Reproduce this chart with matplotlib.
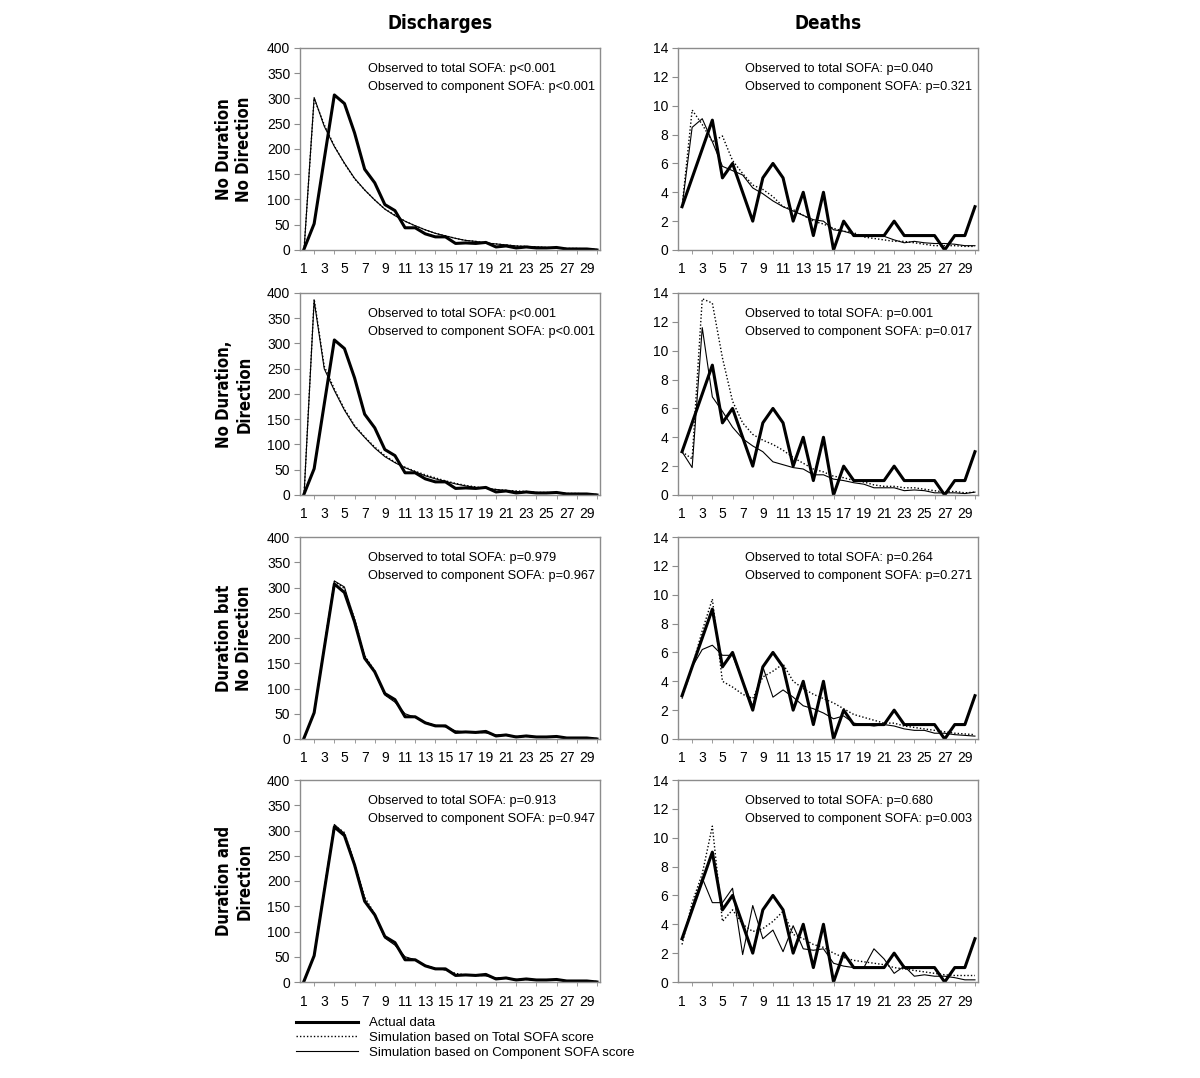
import matplotlib
matplotlib.use("Agg")
import matplotlib.pyplot as plt
import numpy as np

# Length of stay (days) categories
days = list(range(1, 31))
tick_days = list(range(1, 30, 2))

col_titles = ["Discharges", "Deaths"]
row_labels = ["No Duration\nNo Direction", "No Duration,\nDirection",
              "Duration but\nNo Direction", "Duration and\nDirection"]

# Observed data
actual_discharges = [2, 52, 180, 307, 290, 232, 160, 133, 90, 78, 44, 44, 32, 26, 26,
                     13, 14, 13, 15, 6, 8, 4, 6, 4, 4, 5, 2, 2, 2, 0]
actual_deaths = [3, 5, 7, 9, 5, 6, 4, 2, 5, 6, 5, 2, 4, 1, 4,
                 0, 2, 1, 1, 1, 1, 2, 1, 1, 1, 1, 0, 1, 1, 3]

# Simulations based on total SOFA score, one list per model
total_discharges = [
    [0, 300, 248, 206, 171, 141, 119, 99, 81, 69, 57, 48, 40, 33, 28,
     23, 19, 17, 14, 12, 10, 8, 7, 6, 5, 4, 3, 3, 2, 1],
    [0, 388, 255, 210, 170, 138, 115, 95, 78, 65, 55, 47, 40, 34, 28,
     23, 19, 16, 13, 11, 9, 8, 7, 5, 5, 4, 3, 3, 2, 1],
    [2, 52, 185, 312, 298, 238, 165, 135, 88, 75, 46, 44, 33, 27, 25,
     15, 14, 13, 13, 8, 8, 5, 5, 4, 4, 4, 2, 2, 2, 1],
    [2, 53, 185, 310, 296, 236, 168, 135, 88, 75, 48, 44, 33, 27, 24,
     17, 14, 13, 13, 8, 8, 5, 5, 4, 4, 5, 2, 2, 2, 1],
]
total_deaths = [
    [3, 9.7, 8.7, 7.5, 7.9, 6.2, 5.3, 4.5, 4.2, 3.7, 3.0, 2.8, 2.4, 2.0, 1.8,
     1.5, 1.3, 1.2, 0.9, 0.8, 0.7, 0.6, 0.6, 0.5, 0.4, 0.3, 0.3, 0.3, 0.25, 0.25],
    [3.0, 2.5, 13.6, 13.3, 9.5, 6.5, 5.0, 4.2, 3.8, 3.5, 3.1, 2.6, 2.2, 1.8, 1.6,
     1.3, 1.2, 1.0, 0.9, 0.7, 0.6, 0.6, 0.5, 0.5, 0.4, 0.3, 0.2, 0.25, 0.15, 0.2],
    [2.8, 5.0, 7.5, 9.7, 4.0, 3.6, 3.1, 2.8, 4.3, 4.7, 5.2, 4.0, 3.5, 3.1, 2.8,
     2.5, 2.1, 1.7, 1.5, 1.3, 1.1, 1.1, 0.9, 0.8, 0.7, 0.6, 0.5, 0.4, 0.35, 0.3],
    [2.6, 5.5, 7.5, 10.8, 4.2, 5.0, 4.0, 3.5, 3.7, 4.2, 4.9, 3.3, 3.0, 2.6, 2.4,
     2.0, 1.7, 1.5, 1.4, 1.3, 1.2, 1.0, 0.9, 0.8, 0.7, 0.6, 0.5, 0.45, 0.45, 0.45],
]

# Simulations based on component SOFA score
component_discharges = [
    [0, 302, 245, 205, 172, 142, 119, 99, 81, 68, 57, 48, 40, 33, 28,
     23, 19, 17, 14, 12, 10, 8, 7, 6, 5, 4, 3, 3, 2, 1],
    [0, 385, 250, 207, 168, 136, 114, 93, 76, 64, 54, 46, 38, 32, 27,
     22, 18, 15, 13, 11, 9, 7, 6, 5, 4, 4, 3, 2, 2, 1],
    [2, 52, 183, 313, 301, 236, 163, 132, 87, 73, 50, 43, 32, 27, 24,
     16, 14, 13, 12, 8, 7, 5, 5, 4, 3, 4, 2, 2, 2, 1],
    [2, 52, 183, 312, 294, 234, 162, 132, 87, 73, 50, 44, 33, 27, 24,
     15, 14, 13, 12, 8, 8, 5, 5, 4, 4, 4, 2, 2, 2, 1],
]
component_deaths = [
    [3, 8.5, 9.1, 7.5, 5.8, 5.5, 5.2, 4.3, 3.9, 3.4, 3.0, 2.7, 2.4, 2.1, 2.0,
     1.4, 1.3, 1.1, 1.0, 1.0, 0.95, 0.7, 0.5, 0.6, 0.5, 0.45, 0.45, 0.4, 0.3, 0.3],
    [3.0, 1.9, 11.6, 6.8, 5.8, 4.7, 3.9, 3.4, 3.0, 2.3, 2.1, 1.9, 1.8, 1.4, 1.4,
     1.1, 1.0, 0.85, 0.75, 0.5, 0.5, 0.5, 0.3, 0.35, 0.3, 0.15, 0.15, 0.15, 0.1, 0.2],
    [3.0, 5.0, 6.2, 6.5, 5.8, 5.8, 4.0, 2.3, 5.0, 2.9, 3.4, 2.9, 2.3, 2.1, 1.8,
     1.4, 1.6, 1.1, 1.0, 0.9, 1.0, 0.9, 0.7, 0.6, 0.6, 0.4, 0.4, 0.3, 0.25, 0.2],
    [3.0, 5.2, 7.2, 5.5, 5.5, 6.5, 1.9, 5.3, 3.0, 3.6, 2.1, 3.9, 2.3, 2.2, 2.3,
     1.3, 1.1, 1.0, 1.0, 2.3, 1.6, 0.6, 1.1, 0.4, 0.5, 0.4, 0.4, 0.3, 0.15, 0.15],
]

p_total_discharges = ["p<0.001", "p<0.001", "p=0.979", "p=0.913"]
p_component_discharges = ["p<0.001", "p<0.001", "p=0.967", "p=0.947"]
p_total_deaths = ["p=0.040", "p=0.001", "p=0.264", "p=0.680"]
p_component_deaths = ["p=0.321", "p=0.017", "p=0.271", "p=0.003"]

plt.rcParams["font.family"] = ["Liberation Sans", "DejaVu Sans"]
grey = "#8c8c8c"

fig = plt.figure(figsize=(12, 10.78), dpi=100)
W, H = 1200, 1078
col_left = [300, 678]
col_width = [300, 300]
row_top = [48, 293, 537, 780]
row_height = 202


def style_axes(ax, ymax, ystep):
    ax.set_xlim(0.6, 30.3)
    ax.set_ylim(0, ymax)
    ax.set_yticks(np.arange(0, ymax + 1, ystep))
    ax.set_xticks(tick_days)
    ax.set_xticks(days, minor=True)
    for s in ax.spines.values():
        s.set_color(grey)
        s.set_linewidth(1.0)
    ax.tick_params(axis="both", which="both", colors=grey, labelcolor="black",
                   direction="out", labelsize=10)
    ax.tick_params(axis="x", which="major", length=0, pad=9)
    ax.tick_params(axis="x", which="minor", length=3)
    ax.tick_params(axis="y", length=4, pad=3)


for r in range(4):
    for c in range(2):
        x0 = col_left[c] / W
        y0 = 1 - (row_top[r] + row_height) / H
        ax = fig.add_axes([x0, y0, col_width[c] / W, row_height / H])
        if c == 0:
            actual, tot, comp = actual_discharges, total_discharges[r], component_discharges[r]
            p1, p2 = p_total_discharges[r], p_component_discharges[r]
            style_axes(ax, 400, 50)
        else:
            actual, tot, comp = actual_deaths, total_deaths[r], component_deaths[r]
            p1, p2 = p_total_deaths[r], p_component_deaths[r]
            style_axes(ax, 14, 2)
        ax.plot(days, tot, color="black", lw=1.0, ls=(0, (1, 1.5)))
        ax.plot(days, comp, color="black", lw=0.8)
        ax.plot(days, actual, color="black", lw=2.2)
        ax.text(0.225, 0.925, f"Observed to total SOFA: {p1}\nObserved to component SOFA: {p2}",
                transform=ax.transAxes, ha="left", va="top", fontsize=9.2, linespacing=1.6)
        if r == 0:
            tx = 0.467 if c == 0 else 0.5
            ax.text(tx, 1.0 + 24 / row_height, col_titles[c], transform=ax.transAxes,
                    ha="center", va="center", fontsize=13.5, fontweight="bold",
                    family="DejaVu Sans", fontstretch="condensed")
        if c == 0:
            ax.text(-0.22, 0.5, row_labels[r], transform=ax.transAxes, rotation=90,
                    ha="center", va="center", fontsize=12, fontweight="bold",
                    family="DejaVu Sans", fontstretch="condensed", linespacing=1.2)

# Legend under the left column
handles = [
    plt.Line2D([], [], color="black", lw=2.2),
    plt.Line2D([], [], color="black", lw=1.0, ls=(0, (1, 1.5))),
    plt.Line2D([], [], color="black", lw=0.8),
]
fig.legend(handles, ["Actual data", "Simulation based on Total SOFA score",
                     "Simulation based on Component SOFA score"],
           loc="upper left", bbox_to_anchor=(296 / W, 1 - 1017 / H), frameon=False,
           fontsize=9.5, handlelength=4.7, handletextpad=0.8, labelspacing=0.2,
           borderpad=0, borderaxespad=0)

fig.savefig("out.png", dpi=100)
